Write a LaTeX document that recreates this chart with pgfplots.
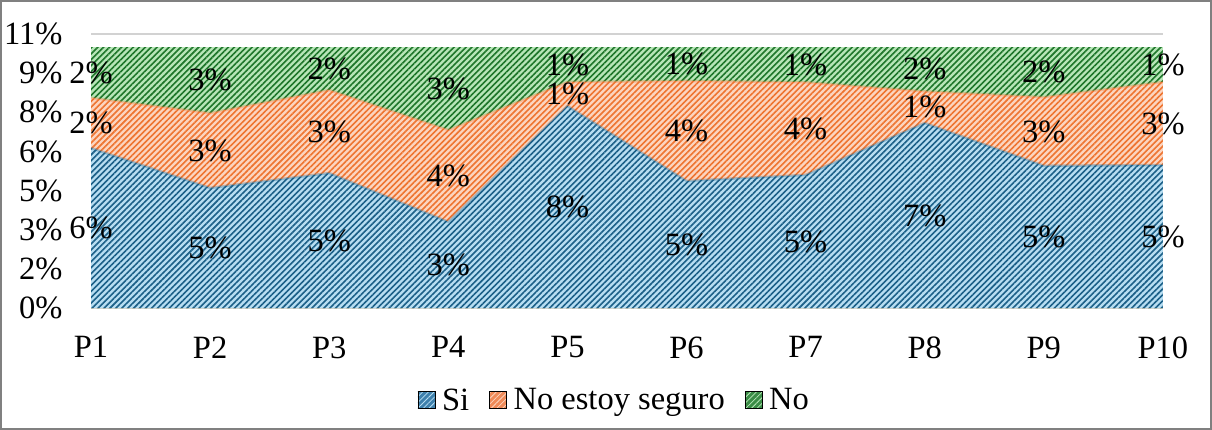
\documentclass[border=0pt]{standalone}
\usepackage{fontspec}
\setmainfont{Liberation Serif}
\usepackage{pgfplots}
\pgfplotsset{compat=1.18}
\usepackage{pgfplotstable}
\usetikzlibrary{patterns.meta}

% fill and hatch colours of the three answers
\definecolor{siBg}{RGB}{184,222,242}
\definecolor{siLn}{RGB}{28,96,136}
\definecolor{nsBg}{RGB}{252,213,192}
\definecolor{nsLn}{RGB}{238,116,48}
\definecolor{noBg}{RGB}{184,230,184}
\definecolor{noLn}{RGB}{30,118,42}
\definecolor{siLeg}{RGB}{62,128,172}
\definecolor{nsLeg}{RGB}{240,138,88}
\definecolor{noLeg}{RGB}{58,140,70}
\definecolor{frame}{RGB}{128,128,128}

\newcommand\chartfont{\fontsize{32.5bp}{38bp}\selectfont}

% share of all answers (in %) per question
\pgfplotstableread{
x  si   ns   no
1  6.13 1.92 1.95
2  4.60 2.87 2.53
3  5.17 3.18 1.65
4  3.30 3.52 3.18
5  7.74 0.92 1.34
6  4.87 3.83 1.30
7  5.10 3.55 1.35
8  7.09 1.21 1.70
9  5.45 2.63 1.92
10 5.48 3.18 1.34
}\answers

\tikzset{
  hatched/.style 2 args={fill=#1, draw=none,
    postaction={pattern={Lines[angle=45,distance=4.2bp,line width=1.6bp]}, pattern color=#2}},
}
\pgfplotsset{
  legsq/.style 2 args={legend image code/.code={
    \fill[#1] (0bp,-8bp) rectangle (17bp,9bp);
    \fill[pattern={Lines[angle=45,distance=4bp,line width=0.8bp]}, pattern color=#2] (0bp,-8bp) rectangle (17bp,9bp);}},
}

\begin{document}
\begin{tikzpicture}
\useasboundingbox (0,0) rectangle (1212bp,430bp);
\draw[frame, line width=2bp] (1bp,1bp) rectangle (1211bp,429bp);
\begin{axis}[
  at={(91bp,122bp)}, anchor=south west,
  scale only axis, width=1072bp, height=274bp,
  xmin=1, xmax=10, ymin=0, ymax=10.5,
  clip=false,
  axis lines*=left, axis line style={draw=none},
  tick style={draw=none},
  xtick={1,...,10},
  xticklabels={P1,P2,P3,P4,P5,P6,P7,P8,P9,P10},
  ytick={0,1.5,3,4.5,6,7.5,9,10.5},
  yticklabels={0\%,2\%,3\%,5\%,6\%,8\%,9\%,11\%},
  ymajorgrids, grid style={gray!35, line width=1.5bp},
  tick label style={font=\chartfont},
  yticklabel style={xshift=-25bp},
  xticklabel style={yshift=-25bp},
  /pgf/number format/assume math mode=true,
  nodes near coords={\pgfmathprintnumber[fixed,precision=0]{\pgfplotspointmeta}\%},
  every node near coord/.append style={font=\chartfont, anchor=center, text=black},
  legend columns=3,
  legend style={draw=none, fill=none, at={(0.488,-0.336)}, anchor=center,
    font=\chartfont, inner sep=0pt,
    /tikz/every odd column/.append style={column sep=5bp},
    /tikz/every even column/.append style={column sep=18bp}},
  legend cell align=left,
]
% stacked areas, drawn from the top band down
\addplot[hatched={noBg}{noLn}, forget plot, nodes near coords={}] table[x=x, y expr=\thisrow{si}+\thisrow{ns}+\thisrow{no}] {\answers} \closedcycle;
\addplot[hatched={nsBg}{nsLn}, forget plot, nodes near coords={}] table[x=x, y expr=\thisrow{si}+\thisrow{ns}] {\answers} \closedcycle;
\addplot[hatched={siBg}{siLn}, forget plot, nodes near coords={}] table[x=x, y=si] {\answers} \closedcycle;
% soft edges along the band borders
\addplot[nsLn, opacity=0.3, line width=2.5bp, line join=round, forget plot, nodes near coords={}] table[x=x, y expr=\thisrow{si}+\thisrow{ns}] {\answers};
\addplot[siLn, opacity=0.3, line width=2.5bp, line join=round, forget plot, nodes near coords={}] table[x=x, y=si] {\answers};
% value labels in the middle of each band
\addplot[draw=none, forget plot, point meta=explicit] table[x=x, y expr=\thisrow{si}/2, meta=si] {\answers};
\addplot[draw=none, forget plot, point meta=explicit] table[x=x, y expr=\thisrow{si}+\thisrow{ns}/2, meta=ns] {\answers};
\addplot[draw=none, forget plot, point meta=explicit] table[x=x, y expr=\thisrow{si}+\thisrow{ns}+\thisrow{no}/2, meta=no] {\answers};
\addlegendimage{legsq={siLeg}{siBg}}
\addlegendentry{Si}
\addlegendimage{legsq={nsLeg}{nsBg}}
\addlegendentry{No estoy seguro}
\addlegendimage{legsq={noLeg}{noBg}}
\addlegendentry{No}
\end{axis}
\end{tikzpicture}
\end{document}
